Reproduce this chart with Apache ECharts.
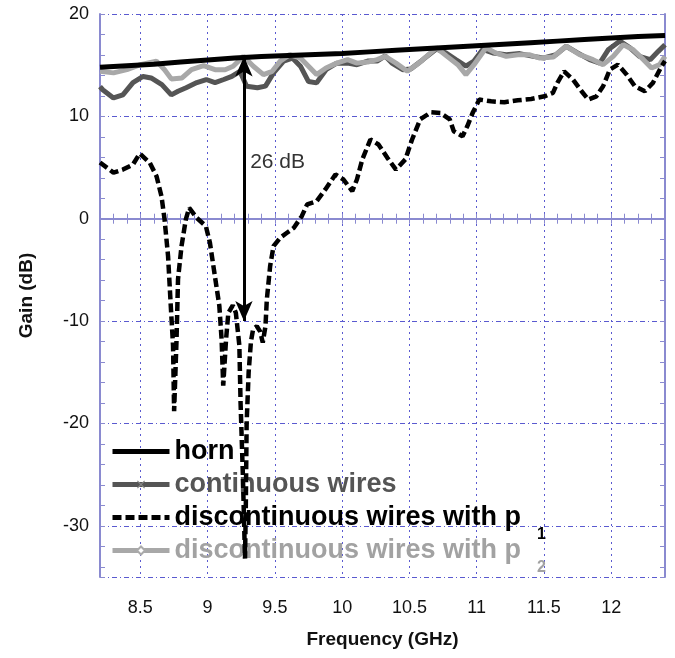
<!DOCTYPE html>
<html><head><meta charset="utf-8">
<script src="https://cdn.jsdelivr.net/npm/echarts@6/dist/echarts.min.js"></script>
<style>html,body{margin:0;padding:0;background:#fff}#c{width:675px;height:658px}</style>
</head><body><div id="c"></div>
<script>
// ---- data ----
const hornFreq = [8.2,8.4,8.6,8.8,9.0,9.2,9.4,9.6,9.8,10.0,10.2,10.4,10.6,10.8,11.0,11.2,11.4,11.6,11.8,12.0,12.2,12.4];
const hornGain = [14.8,14.95,15.1,15.3,15.5,15.7,15.85,15.95,16.05,16.15,16.3,16.45,16.6,16.75,16.9,17.05,17.2,17.35,17.5,17.65,17.8,17.9];

const contFreq = [8.2,8.22,8.3,8.37,8.445,8.52,8.58,8.66,8.73,8.78,8.84,8.92,8.99,9.055,9.12,9.18,9.24,9.29,9.37,9.43,9.49,9.565,9.63,9.69,9.75,9.81,9.88,9.96,10.04,10.11,10.19,10.26,10.32,10.37,10.45,10.51,10.6,10.7,10.77,10.845,10.92,10.98,11.045,11.12,11.22,11.32,11.42,11.5,11.59,11.665,11.75,11.84,11.915,11.98,12.065,12.14,12.21,12.29,12.35,12.4];
const contGain = [12.9,12.6,11.8,12.1,13.3,13.9,13.75,13.1,12.1,12.45,12.8,13.3,13.6,13.3,13.6,13.9,14.4,12.95,12.8,12.95,14.25,15.4,15.7,14.9,13.4,13.27,14.56,15.2,15.2,15.05,15.4,15.4,15.9,15.2,14.56,14.63,15.54,16.58,16.2,15.54,14.9,15.4,16.54,16.2,16.03,16.13,15.86,15.7,16.03,16.85,16.2,15.54,15.2,16.54,17.36,16.7,15.86,15.54,16.35,17.0];

const p1Freq = [8.2,8.3,8.37,8.445,8.495,8.57,8.62,8.657,8.68,8.706,8.726,8.743,8.751,8.769,8.78,8.806,8.838,8.863,8.918,8.987,9.017,9.054,9.087,9.104,9.116,9.137,9.154,9.187,9.21,9.236,9.245,9.262,9.278,9.284,9.29,9.305,9.322,9.338,9.366,9.39,9.41,9.43,9.44,9.465,9.49,9.54,9.59,9.64,9.7,9.74,9.81,9.875,9.95,10.01,10.075,10.11,10.15,10.21,10.27,10.336,10.4,10.47,10.52,10.58,10.66,10.73,10.8,10.83,10.895,10.93,10.97,11.02,11.107,11.206,11.306,11.405,11.505,11.567,11.6,11.65,11.716,11.78,11.83,11.89,11.94,11.99,12.05,12.114,12.176,12.25,12.31,12.375,12.4];
const p1Gain = [5.5,4.5,4.8,5.3,6.37,5.46,4.16,2.2,-0.07,-3.65,-8.5,-12.4,-18.8,-11.8,-5.9,-2.67,-0.07,1.07,0.1,-0.72,-2.34,-5.6,-8.5,-11.8,-16.3,-11.8,-9.2,-8.46,-9.2,-12.4,-18,-25,-33.2,-28,-20,-15,-12,-10.8,-10.5,-11.0,-12.1,-10.5,-7.9,-4.6,-2.67,-1.85,-1.37,-0.9,0.25,1.4,1.7,2.86,4.32,3.83,2.7,3.83,5.8,7.74,7.25,5.95,4.8,5.8,7.74,9.7,10.4,10.34,9.7,8.55,8.06,9.03,10.34,11.64,11.47,11.38,11.57,11.7,11.96,12.3,13.27,14.4,13.6,12.45,11.64,11.96,12.94,14.57,15.05,14.1,12.94,12.45,13.27,14.9,15.4];

const p2Freq = [8.2,8.3,8.4,8.5,8.62,8.68,8.73,8.81,8.88,8.97,9.055,9.13,9.19,9.266,9.34,9.415,9.48,9.54,9.61,9.69,9.75,9.81,9.88,9.96,10.04,10.11,10.19,10.26,10.32,10.4,10.485,10.57,10.7,10.78,10.86,10.92,10.98,11.07,11.14,11.22,11.32,11.39,11.47,11.57,11.665,11.765,11.865,11.94,12.015,12.09,12.16,12.24,12.3,12.36,12.4];
const p2Gain = [14.4,14.25,14.56,15.05,15.4,14.56,13.66,13.75,14.56,14.95,14.56,14.56,14.9,15.86,14.9,14.08,14.4,15.4,16.03,15.7,14.9,14.08,14.73,15.2,15.54,15.2,15.3,15.54,15.86,15.2,14.4,15.2,16.7,15.86,15.05,14.08,15.05,16.7,16.2,15.86,16.03,16.03,15.7,15.8,16.85,16.03,15.54,15.05,15.86,17.0,16.54,15.54,14.73,15.05,15.86];

const seriesNames = ['horn','continuous wires','discontinuous wires with p1','discontinuous wires with p2'];
const xTickLabels = [8.5,9,9.5,10,10.5,11,11.5,12];
const yTickLabels = [-30,-20,-10,0,10,20];
const xRange = [8.2, 12.4];
const yRange = [-35, 20];

// 26 dB annotation
const arrowFreq = 9.27, arrowTop = 15.85, arrowBottom = -10.0;
const noteFreq = 9.316, noteGain = 5.5, noteText = '26 dB';

// ---- chart ----
const pairs = (xs, ys) => xs.map((x, i) => [x, ys[i]]);
const FONT = 'Liberation Sans, Arial, sans-serif';
const BOX = '#8a8ad0';
const GRID = '#5a5ad0';
const near = (v, list) => list.some(t => Math.abs(t - v) < 1e-6);

const chart = echarts.init(document.getElementById('c'), null, {renderer: 'canvas'});
const tickAxisCommon = {
  type: 'value', axisLabel: {show: false}, splitLine: {show: false},
  axisTick: {show: true, inside: true, length: 5, lineStyle: {color: BOX, width: 1}}
};
chart.setOption({
  animation: false,
  grid: {left: 100, top: 14, right: 10, bottom: 81, outerBoundsMode: 'none'},
  xAxis: [
    {type: 'value', position: 'bottom', min: xRange[0], max: xRange[1], minInterval: 0.5, maxInterval: 0.5,
     axisLine: {show: true, lineStyle: {color: BOX, width: 2}}, axisTick: {show: false},
     axisLabel: {showMinLabel: false, showMaxLabel: false, margin: 22, fontSize: 18, color: '#111', fontFamily: FONT,
       formatter: v => near(v, xTickLabels) ? String(v) : ''},
     splitLine: {show: true, lineStyle: {color: GRID, width: 1, type: [2, 4]}},
     name: 'Frequency (GHz)', nameLocation: 'middle', nameGap: 53,
     nameTextStyle: {fontSize: 19, fontWeight: 'bold', color: '#111', fontFamily: FONT}},
    Object.assign({}, tickAxisCommon, {position: 'bottom', min: xRange[0], max: xRange[1], minInterval: 0.1, maxInterval: 0.1, axisLine: {show: false}}),
    Object.assign({}, tickAxisCommon, {position: 'top', min: xRange[0], max: xRange[1], minInterval: 0.1, maxInterval: 0.1, axisLine: {show: true, lineStyle: {color: BOX, width: 2}}})
  ],
  yAxis: [
    {type: 'value', position: 'left', min: yRange[0], max: yRange[1], minInterval: 10, maxInterval: 10,
     axisLine: {show: true, lineStyle: {color: BOX, width: 2}}, axisTick: {show: false},
     axisLabel: {showMinLabel: false, margin: 11, fontSize: 18, color: '#111', fontFamily: FONT,
       formatter: v => near(v, yTickLabels) ? String(v) : ''},
     splitLine: {show: true, lineStyle: {color: GRID, width: 1, type: [5, 3, 1, 3]}},
     name: 'Gain (dB)', nameLocation: 'middle', nameGap: 64,
     nameTextStyle: {fontSize: 19, fontWeight: 'bold', color: '#111', fontFamily: FONT}},
    Object.assign({}, tickAxisCommon, {position: 'left', min: yRange[0], max: yRange[1], minInterval: 2, maxInterval: 2, axisLine: {show: false}}),
    Object.assign({}, tickAxisCommon, {position: 'right', min: yRange[0], max: yRange[1], minInterval: 2, maxInterval: 2, axisLine: {show: true, lineStyle: {color: BOX, width: 2}}})
  ],
  legend: {
    orient: 'vertical', left: 110, top: 438, padding: 0, itemGap: -6,
    itemWidth: 57, itemHeight: 10, selectedMode: false,
    lineStyle: {width: 5},
    data: [
      {name: seriesNames[0], textStyle: {color: '#000'}},
      {name: seriesNames[1], textStyle: {color: '#555'}},
      {name: seriesNames[2], textStyle: {color: '#000'}},
      {name: seriesNames[3], textStyle: {color: '#a2a2a2'}}
    ],
    formatter: n => {
      const m = n.match(/^(.*p)([12])$/);
      return m ? '{m|' + m[1] + '}{s|' + m[2] + '}' : '{m|' + n + '}{s| }';
    },
    textStyle: {
      fontFamily: FONT, fontWeight: 'bold', fontSize: 27,
      rich: {
        m: {fontFamily: FONT, fontWeight: 'bold', fontSize: 27, verticalAlign: 'middle'},
        s: {fontFamily: FONT, fontWeight: 'bold', fontSize: 16, lineHeight: 16, verticalAlign: 'top', padding: [23, 0, 0, 16]}
      }
    }
  },
  series: [
    {name: seriesNames[1], type: 'line', data: pairs(contFreq, contGain), showSymbol: false,
     symbol: 'path://M0,1L1,0L5,4L9,0L10,1L6,5L10,9L9,10L5,6L1,10L0,9L4,5Z', symbolSize: 8,
     itemStyle: {color: '#888'}, lineStyle: {color: '#555', width: 5}, z: 2, silent: true},
    {name: seriesNames[3], type: 'line', data: pairs(p2Freq, p2Gain), showSymbol: false,
     symbol: 'emptyDiamond', symbolSize: 8,
     itemStyle: {color: '#aaa'}, lineStyle: {color: '#a8a8a8', width: 5}, z: 3, silent: true},
    {name: seriesNames[2], type: 'line', data: pairs(p1Freq, p1Gain), showSymbol: false, symbol: 'none',
     itemStyle: {color: 'rgba(0,0,0,0)', borderWidth: 0}, lineStyle: {color: '#000', width: 4.5, type: [9, 4]}, z: 4, silent: true},
    {name: seriesNames[0], type: 'line', data: pairs(hornFreq, hornGain), showSymbol: false, symbol: 'none',
     itemStyle: {color: 'rgba(0,0,0,0)', borderWidth: 0}, lineStyle: {color: '#000', width: 5}, z: 5, silent: true},
    {name: 'annotation', type: 'line', data: [], z: 6, silent: true,
     markLine: {silent: true, symbol: ['arrow', 'arrow'], symbolSize: [13, 20], animation: false,
       label: {show: false}, lineStyle: {color: '#000', width: 3, type: 'solid'},
       data: [[{coord: [arrowFreq, arrowTop]}, {coord: [arrowFreq, arrowBottom]}]]},
     markPoint: {silent: true, animation: false, symbol: 'circle', symbolSize: 0,
       data: [{coord: [noteFreq, noteGain], label: {show: true, position: 'right', distance: 0, formatter: noteText,
         fontSize: 21, color: '#333', fontFamily: FONT}}]}}
  ]
});
</script>
</body></html>
